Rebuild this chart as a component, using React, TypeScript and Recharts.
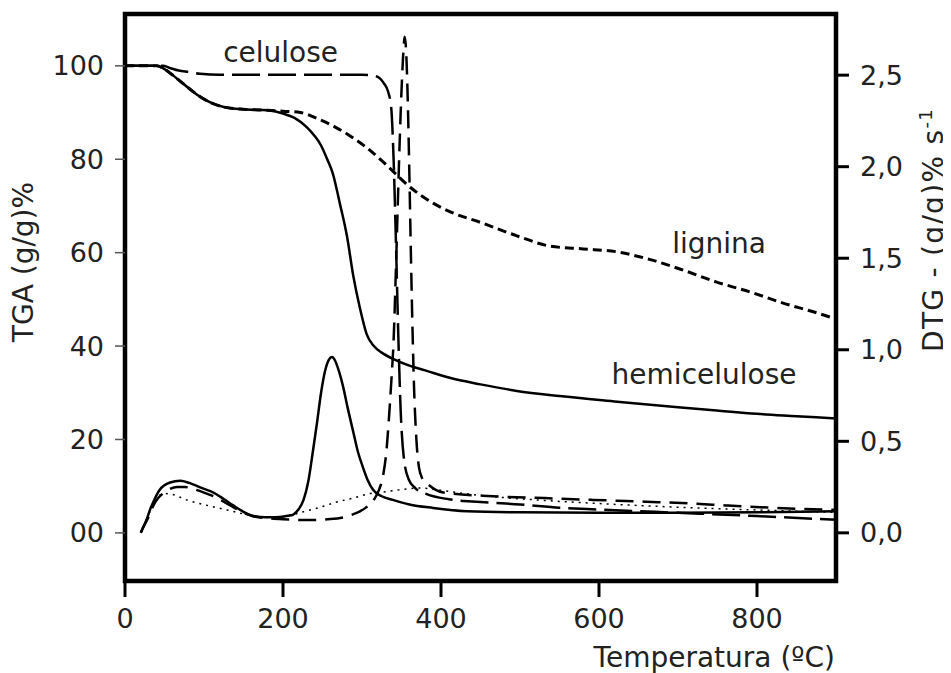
import { LineChart, Line, XAxis, YAxis, ReferenceArea, ReferenceDot, Label } from 'recharts';

const FONT = '"DejaVu Sans", Verdana, sans-serif';
const INK = '#222';

// [temperatura ºC, valor]
const TGA_HEMI = [
  [0, 100], [40, 100], [50, 99.3], [62, 97.8], [75, 96], [95, 93.4], [110, 92], [125, 91.2], [150, 90.7],
  [180, 90.5], [200, 89.8], [215, 88.8], [230, 86.9], [240, 85], [248, 83], [256, 80], [263, 77], [272, 70.5],
  [281, 63.5], [289, 55], [297, 48.4], [306, 42.5], [315, 40], [325, 38.6], [340, 37.2], [360, 35.8],
  [380, 34.8], [411, 33.2], [450, 31.8], [496, 30.4], [550, 29.3], [623, 28.1], [700, 26.9], [749, 26.2],
  [800, 25.5], [850, 25], [900, 24.5],
];

const TGA_LIG = [
  [0, 100], [40, 100], [50, 99.3], [62, 97.8], [75, 96], [95, 93.4], [110, 92], [125, 91.2], [150, 90.7],
  [180, 90.5], [200, 90.3], [222, 90], [245, 88.6], [265, 87], [285, 85], [305, 82.6], [325, 79.7], [340, 77.3],
  [361, 74], [390, 70.6], [411, 68.8], [453, 66.3], [496, 63.6], [538, 61.4], [580, 60.8], [622, 60.2],
  [665, 58.5], [706, 56.3], [749, 53.7], [791, 51.6], [833, 49.2], [876, 47.1], [900, 45.8],
];

const TGA_CEL = [
  [0, 100], [48, 100], [56, 99.6], [68, 99], [82, 98.7], [95, 98.3], [120, 98.1], [200, 98.1], [300, 98.1],
  [312, 98], [322, 97.4], [328, 96.2], [333, 94.5], [337, 91], [340, 80], [343, 62], [346, 42], [349, 26],
  [353, 16], [359, 11.5], [368, 9.5], [382, 8.3], [410, 7.2], [450, 6.6], [500, 6.1], [550, 5.4], [600, 5],
  [700, 4.3], [800, 3.6], [900, 2.8],
];

const DTG_HEMI = [
  [20, 0], [23, 0.03], [28, 0.08], [32, 0.13], [36, 0.17], [44, 0.235], [57, 0.275], [70, 0.285], [86, 0.265],
  [100, 0.24], [112, 0.22], [125, 0.185], [137, 0.15], [150, 0.115], [160, 0.095], [171, 0.087], [185, 0.085],
  [196, 0.087], [206, 0.093], [213, 0.1], [220, 0.13], [226, 0.18], [232, 0.28], [238, 0.45], [243, 0.6],
  [248, 0.76], [253, 0.88], [258, 0.945], [262, 0.96], [266, 0.94], [271, 0.88], [276, 0.8], [282, 0.68],
  [289, 0.55], [295, 0.44], [301, 0.36], [307, 0.29], [314, 0.235], [325, 0.2], [339, 0.18], [360, 0.155],
  [390, 0.136], [433, 0.118], [500, 0.112], [600, 0.11], [700, 0.11], [800, 0.112], [900, 0.118],
];

const DTG_CEL = [
  [20, 0], [23, 0.03], [28, 0.07], [32, 0.11], [36, 0.15], [42, 0.19], [48, 0.215], [57, 0.24], [66, 0.25],
  [76, 0.25], [86, 0.24], [100, 0.22], [112, 0.2], [125, 0.17], [137, 0.14], [150, 0.11], [165, 0.088],
  [180, 0.08], [200, 0.074], [230, 0.07], [260, 0.075], [285, 0.095], [304, 0.135], [315, 0.18], [322, 0.24],
  [327, 0.32], [331, 0.45], [334, 0.62], [337, 0.82], [340, 1.05], [343, 1.45], [346, 1.9], [349, 2.3],
  [352, 2.6], [354, 2.71], [356, 2.62], [358, 2.35], [360, 1.95], [362, 1.5], [364, 1.1], [366, 0.78],
  [369, 0.5], [372, 0.36], [376, 0.3], [385, 0.26], [403, 0.22], [466, 0.2], [530, 0.19], [592, 0.18],
  [660, 0.17], [719, 0.16], [760, 0.15], [804, 0.14], [850, 0.132], [900, 0.125],
];

const DTG_LIG = [
  [20, 0], [23, 0.03], [28, 0.08], [32, 0.12], [36, 0.16], [42, 0.2], [50, 0.215], [60, 0.21], [78, 0.18],
  [104, 0.15], [129, 0.125], [154, 0.1], [175, 0.088], [200, 0.088], [213, 0.1], [226, 0.115], [247, 0.14],
  [268, 0.168], [289, 0.19], [310, 0.215], [330, 0.225], [348, 0.235], [373, 0.245], [395, 0.235],
  [420, 0.22], [460, 0.2], [520, 0.18], [600, 0.16], [700, 0.14], [800, 0.125], [900, 0.112],
];

const X_TICKS = [0, 200, 400, 600, 800];
const TGA_TICKS = [0, 20, 40, 60, 80, 100];
const DTG_TICKS = [0, 0.5, 1, 1.5, 2, 2.5];

const X_DOMAIN = [0, 900];
const TGA_DOMAIN = [-10.3, 111.1];
const DTG_DOMAIN = [-0.263, 2.834];

const pts = (arr: number[][]) => arr.map(([t, v]) => ({ t, v }));

const tickStyle = { fill: INK, fontSize: 27, fontFamily: FONT };

export default function App() {
  return (
    <div style={{ width: 943, height: 665 }}>
      <LineChart width={943} height={665} margin={{ top: 6, right: 0, bottom: 0, left: 0 }}>
        <XAxis
          type="number"
          dataKey="t"
          domain={X_DOMAIN}
          ticks={X_TICKS}
          allowDataOverflow
          axisLine={false}
          tickSize={16}
          tickMargin={12}
          tickLine={{ stroke: '#000', strokeWidth: 3 }}
          tick={tickStyle}
          height={92}
        >
          <Label
            content={() => (
              <text x={827} y={659} textAnchor="end" fontSize={28} fontFamily={FONT} fill={INK}>
                Temperatura (ºC)
              </text>
            )}
          />
        </XAxis>
        <YAxis
          yAxisId="left"
          type="number"
          domain={TGA_DOMAIN}
          ticks={TGA_TICKS}
          allowDataOverflow
          interval={0}
          axisLine={false}
          tickSize={10}
          tickMargin={11}
          tickLine={{ stroke: '#555', strokeWidth: 1.5 }}
          tick={tickStyle}
          tickFormatter={(v: number) => (v === 0 ? '00' : String(v))}
          width={117}
        >
          <Label
            content={() => (
              <text x={25} y={254} textAnchor="middle" transform="rotate(-90, 25, 254)" fontSize={28} fontFamily={FONT} fill={INK}>
                TGA (g/g)%
              </text>
            )}
          />
        </YAxis>
        <YAxis
          yAxisId="right"
          orientation="right"
          type="number"
          domain={DTG_DOMAIN}
          ticks={DTG_TICKS}
          allowDataOverflow
          interval={0}
          axisLine={false}
          tickSize={13}
          tickMargin={11}
          tickLine={{ stroke: '#000', strokeWidth: 3 }}
          tick={tickStyle}
          tickFormatter={(v: number) => v.toFixed(1).replace('.', ',')}
          width={115}
        >
          <Label
            content={() => (
              <text x={935} y={222} textAnchor="middle" transform="rotate(-90, 935, 222)" fontSize={28} fontFamily={FONT} fill={INK} letterSpacing={1.3}>
                DTG - (g/g)% s<tspan dy={-11} fontSize={18}>-1</tspan>
              </text>
            )}
          />
        </YAxis>

        <Line yAxisId="left" data={pts(TGA_HEMI)} dataKey="v" type="monotone" stroke="#000" strokeWidth={2.5} dot={false} isAnimationActive={false} />
        <Line yAxisId="left" data={pts(TGA_LIG)} dataKey="v" type="monotone" stroke="#000" strokeWidth={3} strokeDasharray="9 5" dot={false} isAnimationActive={false} />
        <Line yAxisId="left" data={pts(TGA_CEL)} dataKey="v" type="monotone" stroke="#000" strokeWidth={2.5} strokeDasharray="28 8" dot={false} isAnimationActive={false} />
        <Line yAxisId="right" data={pts(DTG_HEMI)} dataKey="v" type="monotone" stroke="#000" strokeWidth={2.5} dot={false} isAnimationActive={false} />
        <Line yAxisId="right" data={pts(DTG_CEL)} dataKey="v" type="monotone" stroke="#000" strokeWidth={2.5} strokeDasharray="18 9" dot={false} isAnimationActive={false} />
        <Line yAxisId="right" data={pts(DTG_LIG)} dataKey="v" type="monotone" stroke="#000" strokeWidth={1.5} strokeDasharray="2 5" dot={false} isAnimationActive={false} />

        <ReferenceArea
          yAxisId="left"
          x1={X_DOMAIN[0]}
          x2={X_DOMAIN[1]}
          y1={TGA_DOMAIN[0]}
          y2={TGA_DOMAIN[1]}
          fill="none"
          stroke="#000"
          strokeWidth={4.5}
        />

        <ReferenceDot yAxisId="left" x={197} y={103} r={0} stroke="none" fill="none"
          label={{ value: 'celulose', position: 'center', fill: INK, fontSize: 28, fontFamily: FONT }} />
        <ReferenceDot yAxisId="left" x={752} y={62} r={0} stroke="none" fill="none"
          label={{ value: 'lignina', position: 'center', fill: INK, fontSize: 28, fontFamily: FONT }} />
        <ReferenceDot yAxisId="left" x={733} y={34} r={0} stroke="none" fill="none"
          label={{ value: 'hemicelulose', position: 'center', fill: INK, fontSize: 28, fontFamily: FONT }} />
      </LineChart>
    </div>
  );
}
